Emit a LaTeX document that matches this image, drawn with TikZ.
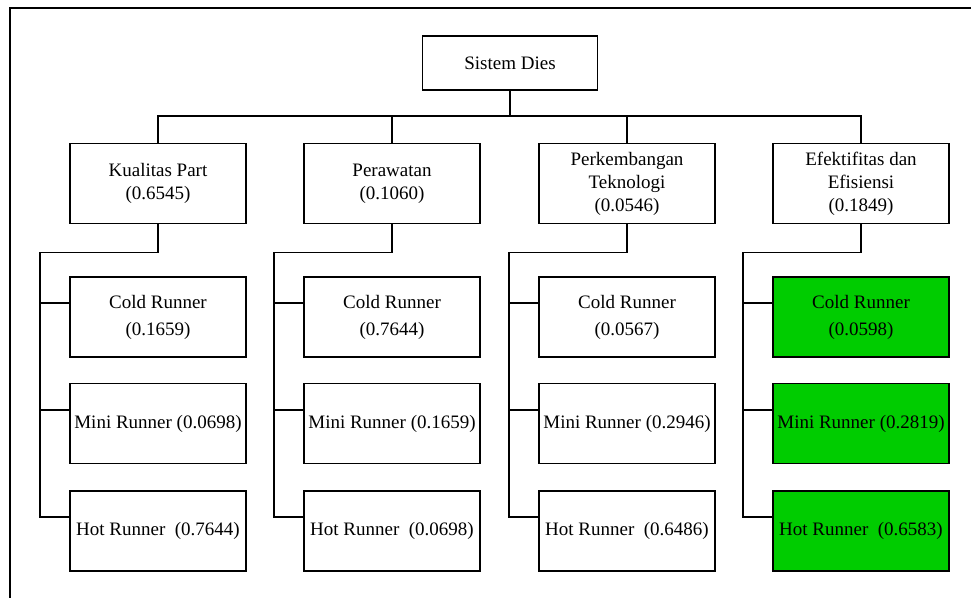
\documentclass[tikz,border=0pt]{standalone}
\usepackage{fontspec}
\setmainfont{Liberation Serif}
\usepackage{xcolor}
\usetikzlibrary{positioning,calc}
\definecolor{chosen}{RGB}{0,204,0}

\begin{document}
\begin{tikzpicture}[x=1pt,y=-1pt,line width=1.8pt,
    box/.style={draw,minimum width=176pt,minimum height=80pt,align=center,inner sep=1pt,font=\fontsize{19}{23}\selectfont},
    altbox/.style={box,font=\fontsize{19}{27}\selectfont},
    rootbox/.style={box,minimum width=175pt,minimum height=54pt},
    best/.style={altbox,fill=chosen}]
    \useasboundingbox (0,0) rectangle (971,597);
    \clip (0,0) rectangle (971,597);
    % Frame
    \draw (10,8) rectangle (1000,640);

    % Goal
    \node[rootbox] (goal) at (510,63) {Sistem Dies};

    % Criteria
    \node[box] (kp) at (158,183.5) {Kualitas Part\\(0.6545)};
    \node[box] (pw) at (392,183.5) {Perawatan\\(0.1060)};
    \node[box] (pk) at (627,183.5) {Perkembangan\\Teknologi\\(0.0546)};
    \node[box] (ef) at (861,183.5) {Efektifitas dan\\Efisiensi\\(0.1849)};

    % Alternatives
    \node[altbox] (kpc) at (158,317) {Cold Runner\\(0.1659)};
    \node[altbox] (kpm) at (158,423.5) {Mini Runner (0.0698)};
    \node[altbox] (kph) at (158,531) {Hot Runner\ \ (0.7644)};

    \node[altbox] (pwc) at (392,317) {Cold Runner\\(0.7644)};
    \node[altbox] (pwm) at (392,423.5) {Mini Runner (0.1659)};
    \node[altbox] (pwh) at (392,531) {Hot Runner\ \ (0.0698)};

    \node[altbox] (pkc) at (627,317) {Cold Runner\\(0.0567)};
    \node[altbox] (pkm) at (627,423.5) {Mini Runner (0.2946)};
    \node[altbox] (pkh) at (627,531) {Hot Runner\ \ (0.6486)};

    \node[best] (efc) at (861,317) {Cold Runner\\(0.0598)};
    \node[best] (efm) at (861,423.5) {Mini Runner (0.2819)};
    \node[best] (efh) at (861,531) {Hot Runner\ \ (0.6583)};

    % Goal to criteria
    \draw (kp.north) -- ++(0,-27) coordinate (bar) -| (ef.north);
    \draw (goal.south) -- (goal.south |- bar);
    \draw (pw.north) -- (pw.north |- bar);
    \draw (pk.north) -- (pk.north |- bar);

    % Criteria to alternatives
    \foreach \p/\a/\b/\c in {kp/kpc/kpm/kph, pw/pwc/pwm/pwh, pk/pkc/pkm/pkh, ef/efc/efm/efh} {
        \draw (\p.south) -- ++(0,28) -| ($(\c.north west)+(-29,27)$) -- ($(\c.north west)+(0,27)$);
        \draw ($(\a.north west)+(-29,27)$) -- ($(\a.north west)+(0,27)$);
        \draw ($(\b.north west)+(-29,27)$) -- ($(\b.north west)+(0,27)$);
    }
\end{tikzpicture}
\end{document}
